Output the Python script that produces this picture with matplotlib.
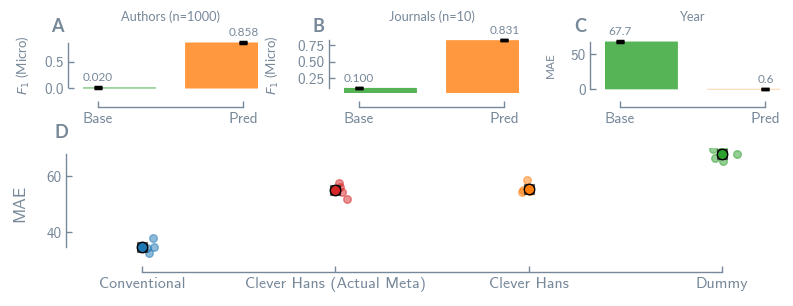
import numpy as np
import matplotlib
matplotlib.use('Agg')
import matplotlib.pyplot as plt

# panels A-C: baseline vs prediction
bar_labels = ['Base', 'Pred']
authors_f1 = [0.020, 0.858]
authors_err = [0.003, 0.004]
journals_f1 = [0.100, 0.831]
journals_err = [0.004, 0.005]
year_mae = [67.7, 0.6]
year_err = [0.5, 0.3]

# panel D: MAE of the single runs per model
models = ['Conventional', 'Clever Hans (Actual Meta)', 'Clever Hans', 'Dummy']
mae_conventional = [37.9, 34.7, 32.7, 34.3, 34.4]
mae_actual_meta = [57.5, 56.1, 54.3, 51.9, 55.0]
mae_clever_hans = [58.5, 54.3, 54.9, 55.2, 54.8]
mae_dummy = [69.7, 66.5, 70.2, 65.5, 67.9]

GRAY = 'lightslategray'
TICKFONT = 'cmss10'
plt.rcParams['font.family'] = ['Lato', 'DejaVu Sans']
plt.rcParams['text.color'] = GRAY
plt.rcParams['axes.labelcolor'] = GRAY

W, H = 793, 306
fig = plt.figure(figsize=(W / 100, H / 100), dpi=100)


def box(left, top, right, bottom):
    return [left / W, 1 - bottom / H, (right - left) / W, (bottom - top) / H]


def style(ax, ybounds, xbounds, xsize=11):
    for s in ['top', 'right']:
        ax.spines[s].set_visible(False)
    ax.spines['left'].set_position(('outward', 10.5))
    ax.spines['bottom'].set_position(('outward', 10))
    ax.spines['left'].set_bounds(*ybounds)
    ax.spines['bottom'].set_bounds(*xbounds)
    for s in ['left', 'bottom']:
        ax.spines[s].set_color(GRAY)
        ax.spines[s].set_linewidth(1)
    ax.tick_params(direction='in', length=4, width=1, color=GRAY,
                   labelcolor=GRAY, labelsize=11)
    ax.tick_params(axis='x', labelsize=xsize)
    for lab in ax.get_xticklabels() + ax.get_yticklabels():
        lab.set_fontfamily(TICKFONT)


green = (0.173, 0.627, 0.173)
orange = (1.0, 0.498, 0.055)

panels = [
    ('Authors (n=1000)', authors_f1, authors_err, '{:.3f}', '$F_1$ (Micro)', 9.5,
     [0.0, 0.5], (-0.084, 0.942), 83, -0.29),
    ('Journals (n=10)', journals_f1, journals_err, '{:.3f}', '$F_1$ (Micro)', 9.5,
     [0.25, 0.50, 0.75], (0.022, 0.864), 344, -0.36),
    ('Year', year_mae, year_err, '{:.1f}', 'MAE', 8.5,
     [0, 50], (-5.2, 72.7), 605, -0.28),
]

x = np.arange(len(bar_labels))
shift = np.array([0.15, -0.15])
for title, vals, errs, fmt, ylab, ylsize, yticks, ylim, left, labx in panels:
    ax = fig.add_axes(box(left, 38, left + 175, 93))
    ax.bar(x + shift, vals, width=0.5, color=[green, orange], alpha=0.8, snap=False)
    ax.errorbar(x, vals, yerr=errs, fmt='none', ecolor='k', elinewidth=2.5,
                capsize=3, capthick=2.5)
    for xi, v in zip(x, vals):
        ax.annotate(fmt.format(v), (xi, v), xytext=(0, 3), textcoords='offset points',
                    ha='center', va='bottom', fontsize=8.5, color=GRAY)
    ax.set_xlim(-0.1, 1.1)
    ax.set_ylim(*ylim)
    ax.set_xticks(x)
    ax.set_xticklabels(bar_labels)
    ax.set_yticks(yticks)
    ax.set_ylabel(ylab, fontsize=ylsize)
    ax.yaxis.set_label_coords(labx, 0.5)
    ax.set_title(title, fontsize=9.2, color=GRAY, pad=12)
    style(ax, (min(vals), max(vals)), (0, 1))

# panel D
runs = [mae_conventional, mae_actual_meta, mae_clever_hans, mae_dummy]
colors = ['tab:blue', 'tab:red', 'tab:orange', 'tab:green']
jitter = [[0.058, 0.062, 0.036, 0.024, 0.0],
          [0.017, 0.026, 0.035, 0.06, 0.01],
          [-0.008, -0.034, -0.027, 0.0, 0.005],
          [-0.045, -0.036, 0.004, 0.004, 0.079]]
axd = fig.add_axes(box(81, 148, 783, 258))
means = []
for i, (vals, c, jit) in enumerate(zip(runs, colors, jitter)):
    m = np.mean(vals)
    means.append(m)
    axd.plot(i + np.array(jit), vals, 'o', color=c, mec=c, alpha=0.5, ms=5.5)
    axd.plot(i, m, 's', color='0.3', mec='0.1', mew=0.8, alpha=0.6, ms=7.5)
    axd.plot(i, m, 'o', color=c, mec='k', mew=1, ms=7.5)
axd.set_xlim(-0.3156, 3.3156)
axd.set_ylim(30.8, 70.0)
axd.set_xticks(range(len(models)))
axd.set_xticklabels(models)
axd.set_yticks([40, 60])
axd.set_ylabel('MAE', fontsize=12.5, fontfamily=TICKFONT)
axd.yaxis.set_label_coords(-0.077, 0.5)
style(axd, (min(means), max(means)), (0, 3), xsize=11.5)

for letter, (px, py) in zip('ABCD', [(57.5, 26), (318.5, 26), (580, 26), (61, 132.5)]):
    fig.text(px / W, 1 - py / H, letter, fontsize=13, fontweight='bold',
             color=GRAY, ha='center', va='center')

fig.savefig('out.png', dpi=100)
